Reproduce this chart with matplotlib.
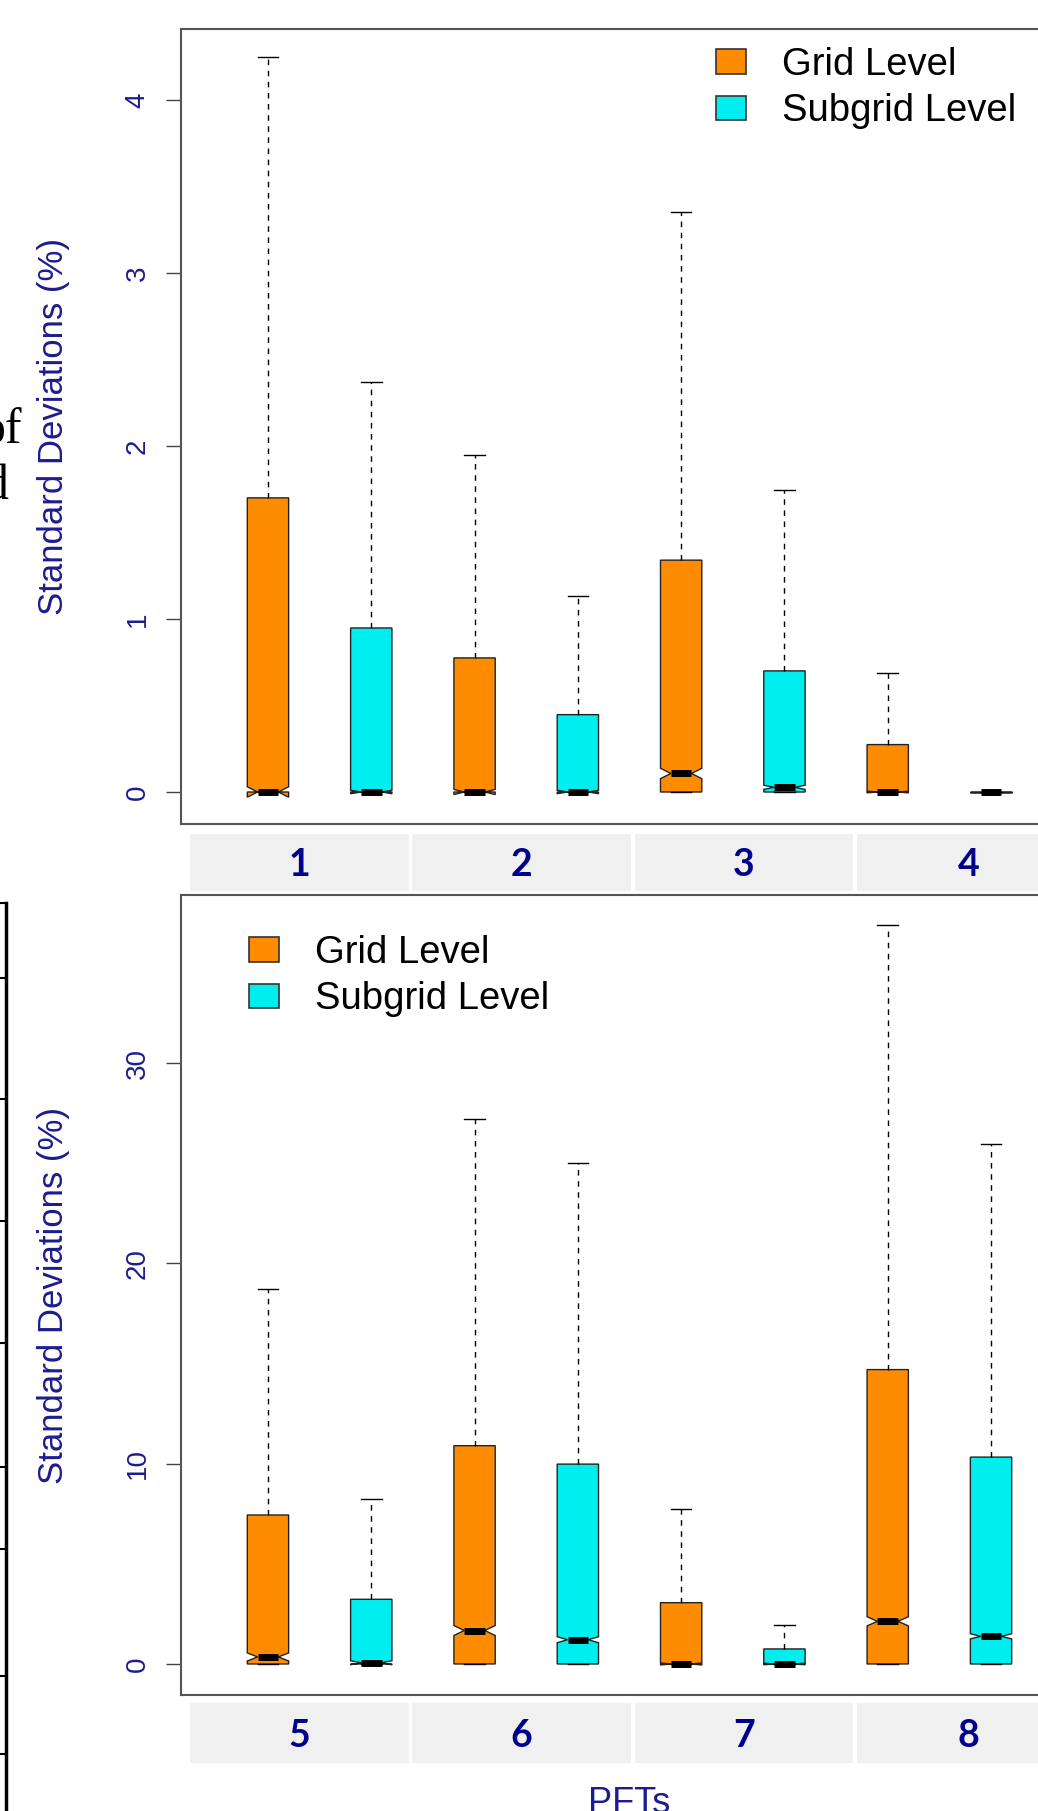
import matplotlib.pyplot as plt
from matplotlib.patches import Rectangle, Patch

W, H = 1038, 1811

plt.rcParams['font.family'] = ['Liberation Sans', 'DejaVu Sans']

pfts = ['1', '2', '3', '4', '5', '6', '7', '8']
levels = ['Grid Level', 'Subgrid Level']

# standard deviations (%) per PFT
grid_q1 = [0, 0, 0, 0, 0, 0, 0, 0]
grid_med = [0.0, 0.0, 0.107, 0.0, 0.35, 1.67, 0.0, 2.13]
grid_q3 = [1.70, 0.775, 1.34, 0.274, 7.44, 10.9, 3.06, 14.7]
grid_whi = [4.25, 1.95, 3.35, 0.688, 18.7, 27.2, 7.73, 36.9]
grid_notch = [0.03, 0.015, 0.03, 0.005, 0.2, 0.25, 0.05, 0.23]

sub_q1 = [0, 0, 0, 0, 0, 0, 0, 0]
sub_med = [0.0, 0.0, 0.027, 0.0, 0.06, 1.21, 0.0, 1.38]
sub_q3 = [0.948, 0.447, 0.70, 0.0, 3.23, 9.98, 0.75, 10.33]
sub_whi = [2.37, 1.13, 1.743, 0.0, 8.25, 25.0, 1.96, 25.97]
sub_notch = [0.01, 0.01, 0.012, 0.0, 0.1, 0.15, 0.04, 0.13]

colors = ['#FF8C00', '#00EEEE']
navy = '#1c1c8f'


def stats_for(q1, med, q3, whi, notch, idx):
    out = []
    for i in idx:
        out.append(dict(q1=q1[i], med=med[i], q3=q3[i], whislo=q1[i],
                        whishi=whi[i], cilo=med[i] - notch[i],
                        cihi=med[i] + notch[i], fliers=[]))
    return out


def fx(x):
    return x / W


def fy(y):
    return 1 - y / H


fig = plt.figure(figsize=(W / 100, H / 100), dpi=100)

panels = [
    dict(idx=[0, 1, 2, 3], top=29, bottom=824, ylim=(-0.185, 4.41),
         ticks=[0, 1, 2, 3, 4], leg=(716, 47), strip=(834, 891)),
    dict(idx=[4, 5, 6, 7], top=895, bottom=1695, ylim=(-1.55, 38.4),
         ticks=[0, 10, 20, 30], leg=(249, 935), strip=(1703, 1763)),
]

cells = [(190, 409), (412, 631), (635, 853), (857, 1080)]

for p in panels:
    ax = fig.add_axes([fx(181), fy(p['bottom']), fx(1078) - fx(181),
                       (p['bottom'] - p['top']) / H])
    g = stats_for(grid_q1, grid_med, grid_q3, grid_whi, grid_notch, p['idx'])
    s = stats_for(sub_q1, sub_med, sub_q3, sub_whi, sub_notch, p['idx'])
    allstats = []
    for a, b in zip(g, s):
        allstats += [a, b]
    n = len(allstats)
    bp = ax.bxp(allstats, positions=range(1, n + 1), widths=0.4,
                shownotches=True, patch_artist=True, showfliers=False,
                boxprops=dict(edgecolor='#222222', linewidth=1.0),
                medianprops=dict(color='black', linewidth=5,
                                 solid_capstyle='butt'),
                whiskerprops=dict(color='black', linewidth=1.0,
                                  linestyle=(0, (4, 4))),
                capprops=dict(color='black', linewidth=1.0))
    for k, box in enumerate(bp['boxes']):
        box.set_facecolor(colors[k % 2])

    ax.set_xlim(0.158, n + 0.842)
    ax.set_ylim(*p['ylim'])
    ax.set_xticks([])
    ax.set_yticks(p['ticks'])
    ax.set_yticklabels([str(t) for t in p['ticks']], rotation=90,
                       va='center', color=navy, fontsize=20)
    ax.tick_params(axis='y', length=11, width=1, color='#444444', pad=11)
    for sp in ax.spines.values():
        sp.set_color('#555555')
        sp.set_linewidth(1.5)
    ax.set_ylabel('Standard Deviations (%)', color=navy, fontsize=25)
    ax.yaxis.set_label_coords(-0.124, 0.5)

    handles = [Patch(facecolor=c, edgecolor='#333333', linewidth=1.2)
               for c in colors]
    lx, ly = p['leg']
    ax.legend(handles, levels, loc='upper left',
              bbox_to_anchor=(fx(lx), fy(ly)), bbox_transform=fig.transFigure,
              frameon=False, fontsize=27.5, borderpad=0, borderaxespad=0,
              handlelength=0.78, handleheight=0.6, handletextpad=0.95,
              labelspacing=0.27)

    # strip of PFT labels under the panel
    y0, y1 = p['strip']
    for (x0, x1), i in zip(cells, p['idx']):
        fig.add_artist(Rectangle((fx(x0), fy(y1)), fx(x1) - fx(x0),
                                 (y1 - y0) / H, transform=fig.transFigure,
                                 facecolor='#F0F0F0', edgecolor='none'))
        fig.text(fx((x0 + x1) / 2), fy((y0 + y1) / 2 + 3), pfts[i],
                 ha='center', va='center', fontsize=27, fontweight='bold',
                 family='Lato', color='#00008B')

fig.text(fx(629), fy(1813), 'PFTs', ha='center', va='baseline',
         fontsize=26, color=navy)

# fragment of the neighbouring page on the left
fig.text(fx(22), fy(443), 'of', ha='right', va='baseline', fontsize=36,
         family='Liberation Serif', color='black')
fig.text(fx(8), fy(500), 'd', ha='right', va='baseline', fontsize=36,
         family='Liberation Serif', color='black')
fig.add_artist(plt.Line2D([fx(6), fx(6)], [fy(903), fy(1811)],
                          transform=fig.transFigure, color='black', lw=2.5))
for yy in [903, 978, 1099, 1221, 1343, 1467, 1549, 1676, 1754]:
    fig.add_artist(plt.Line2D([0, fx(6)], [fy(yy), fy(yy)],
                              transform=fig.transFigure, color='black', lw=1.5))

fig.savefig('out.png', dpi=100)
